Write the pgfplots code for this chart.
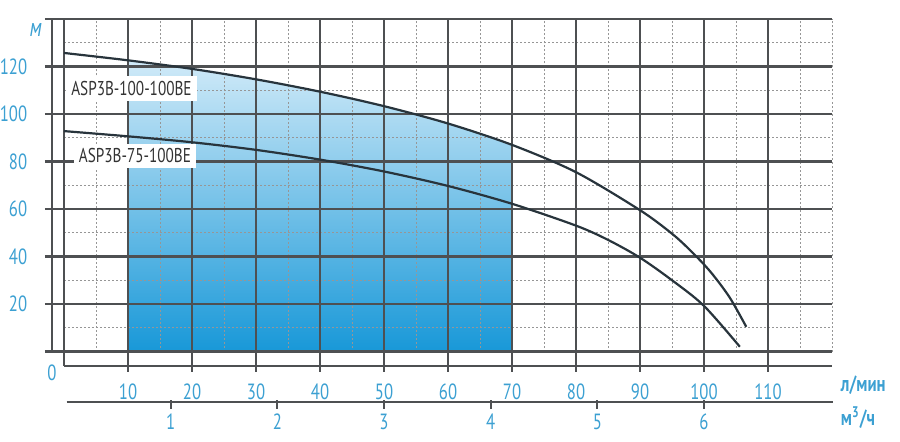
\documentclass[border=0pt]{standalone}
\usepackage{pgfplots}
\pgfplotsset{compat=1.18}
\usepackage{fontspec}
\setmainfont{PT Sans}[FakeStretch=0.76]

\definecolor{tickblue}{RGB}{60,160,210}
\definecolor{gridc}{RGB}{78,80,82}
\definecolor{minorc}{RGB}{150,150,150}
\definecolor{curvec}{RGB}{40,52,60}
\definecolor{filltop}{RGB}{208,234,248}
\definecolor{fillbot}{RGB}{24,152,216}

\tikzset{
  majgrid/.style={gridc, line width=1.1pt},
  mingrid/.style={minorc, line width=0.45pt, dash pattern=on 1pt off 1pt},
  curvelabel/.style={fill=white, text=black!80, inner sep=2.5pt, anchor=west,
    font=\fontsize{10}{12}\selectfont},
}

\begin{document}
\begin{tikzpicture}
\begin{axis}[
  x=3.2pt, y=1.1875pt,
  xmin=-3, xmax=120, ymin=-6, ymax=140,
  axis line style={draw=none},
  major tick length=0pt, minor tick length=0pt,
  xtick={10,20,...,110},
  ytick={20,40,...,120},
  tick label style={font=\fontsize{11}{12}\selectfont, text=tickblue},
  /pgf/number format/assume math mode=true,
  xticklabel style={yshift=-5.3pt},
  yticklabel style={xshift=-5.3pt},
  clip=false,
]

% blue working range 10..70 l/min, under ASP3B-100-100BE
\addplot[draw=none, top color=filltop, bottom color=fillbot, smooth]
  coordinates {(10,122.6) (20,119.0) (30,114.6) (40,109.4) (50,103.3) (60,96.0) (70,87.0)}
  \closedcycle;

% grid
\pgfplotsinvokeforeach{10,30,...,130}{\draw[mingrid] (axis cs:0,#1) -- (axis cs:120,#1);}
\pgfplotsinvokeforeach{5,15,...,115,120}{\draw[mingrid] (axis cs:#1,0) -- (axis cs:#1,140);}
\pgfplotsinvokeforeach{0,20,...,140}{\draw[majgrid] (axis cs:-3,#1) -- (axis cs:120,#1);}
\pgfplotsinvokeforeach{0,10,...,110}{\draw[majgrid] (axis cs:#1,-6) -- (axis cs:#1,140);}
\pgfplotsinvokeforeach{10,20,...,110}{\draw[majgrid] (axis cs:#1,-6) -- (axis cs:#1,-8.6);}
\draw[majgrid] (axis cs:-1.9,0) -- (axis cs:-1.9,140);
\draw[majgrid] (axis cs:0,-6) -- (axis cs:120,-6);

% curves
\addplot[curvec, line width=1.1pt, smooth] coordinates {
  (0,125.7) (10,122.6) (20,119.0) (30,114.6) (40,109.4) (50,103.3) (60,96.0)
  (70,87.0) (80,75.5) (90,59.5) (95,49.6) (98,42.2) (101,33.6) (104,22.8) (106.6,10.4)};
\addplot[curvec, line width=1.1pt, smooth] coordinates {
  (0,92.8) (10,90.6) (20,88.1) (30,84.9) (40,80.8) (50,75.8) (60,69.7)
  (70,62.2) (80,53.0) (85,47.0) (90,39.5) (95,30.0) (100,19.2) (105.6,2)};

\node[curvelabel] at (axis cs:0.3,110.8) {ASP3B-100-100BE};
\node[curvelabel] at (axis cs:1.5,82.4) {ASP3B-75-100BE};

% labels
\node[text=tickblue, font=\fontsize{13}{14}\selectfont\itshape] at (axis cs:-4.4,135.2) {м};
\node[text=tickblue, font=\fontsize{11}{12}\selectfont] at (axis cs:-1.9,-8.8) {0};
\node[text=tickblue, anchor=west, font=\fontsize{11}{12}\selectfont\bfseries] at (axis cs:120.3,-14.1) {л/мин};
\node[text=tickblue, anchor=west, font=\fontsize{11}{12}\selectfont\bfseries] at (axis cs:120.3,-28) {м\textsuperscript{3}/ч};

% second scale, m3/h
\draw[majgrid] (axis cs:0.4,-21.3) -- (axis cs:120.2,-21.3);
\pgfplotsinvokeforeach{1,...,6}{
  \draw[majgrid] (axis cs:#1*16.6667,-20.5) -- (axis cs:#1*16.6667,-24);
  \node[text=tickblue, font=\fontsize{11}{12}\selectfont] at (axis cs:#1*16.6667,-29.6) {#1};
}

\coordinate (bl) at (axis cs:-10,-38.1);
\coordinate (tr) at (axis cs:130.625,148);
\end{axis}
\pgfresetboundingbox
\path[use as bounding box] (bl) rectangle (tr);
\end{tikzpicture}
\end{document}
